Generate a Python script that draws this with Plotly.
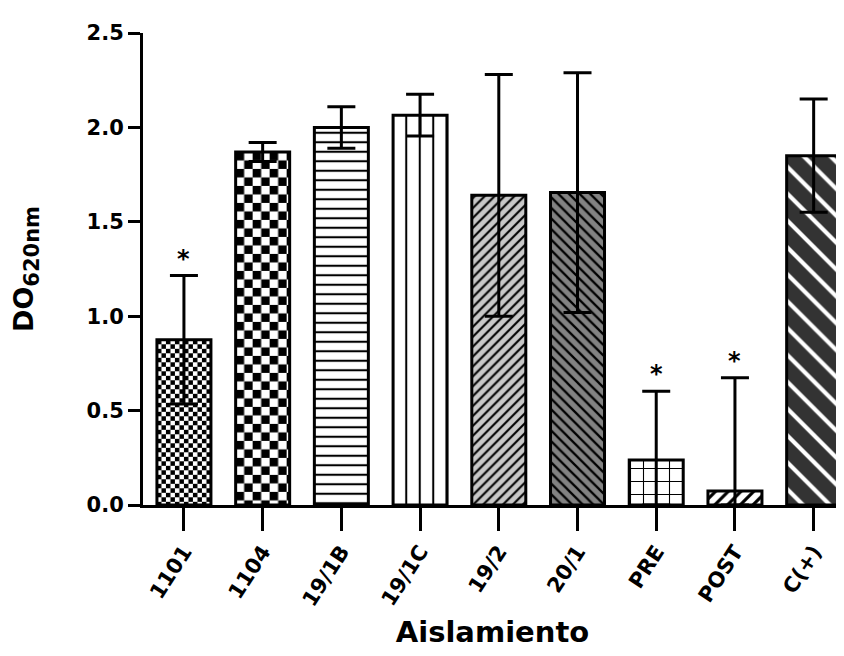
import base64
import plotly.graph_objects as go

# ---- data ----
categories = ["1101", "1104", "19/1B", "19/1C", "19/2", "20/1", "PRE", "POST", "C(+)"]
means = [0.875, 1.87, 2.0, 2.065, 1.64, 1.655, 0.238, 0.074, 1.85]
sds = [0.34, 0.05, 0.11, 0.11, 0.64, 0.635, 0.365, 0.60, 0.30]
stars = ["*", "", "", "", "", "", "*", "*", ""]
y_ticks = [0.0, 0.5, 1.0, 1.5, 2.0, 2.5]

# ---- styling ----
FONT = "DejaVu Sans, Liberation Sans, Arial, sans-serif"
shapes = ["", "", "-", "|", "/", "\\", "+", "/", "\\"]
bgcols = ["rgba(0,0,0,0)", "rgba(0,0,0,0)", "white", "white", "#c8c8c8", "#828282", "white", "white", "#333333"]
fgcols = ["black", "black", "black", "black", "black", "black", "black", "black", "white"]
psize = [8, 8, 9.5, 13.5, 7, 7.5, 13, 9, 19]
psolid = [0.3, 0.3, 0.22, 0.15, 0.3, 0.3, 0.16, 0.35, 0.22]
checker_cell = {0: 4.5, 1: 8.5}  # checkerboard fills for 1101 and 1104

X_RANGE = [-0.52, 8.36]
Y_RANGE = [0, 2.5]
# page has an 8px body margin, so the figure is sized/offset to compensate
M_L, M_R, M_T, M_B = 135, 2, 25, 151
W, H = 836, 648
BAR_W = 0.686

plot_w = W - M_L - M_R
plot_h = H - M_T - M_B
px_x = plot_w / (X_RANGE[1] - X_RANGE[0])
px_y = plot_h / (Y_RANGE[1] - Y_RANGE[0])

x_idx = list(range(len(categories)))

fig = go.Figure()
for i in x_idx:
    pat = dict(shape=shapes[i], fillmode="replace")
    if shapes[i]:
        pat.update(bgcolor=bgcols[i], fgcolor=fgcols[i], size=psize[i],
                   solidity=psolid[i], fgopacity=1)
    fig.add_trace(go.Bar(
        x=[x_idx[i]], y=[means[i]], width=BAR_W,
        marker=dict(color=bgcols[i], line=dict(color="black", width=3), pattern=pat),
        error_y=dict(type="data", array=[sds[i]], arrayminus=[min(sds[i], means[i])],
                     symmetric=False, color="black", thickness=3, width=14),
        showlegend=False, name=categories[i],
    ))


def checker_svg(w, h, cell):
    svg = (
        f'<svg xmlns="http://www.w3.org/2000/svg" width="{w:.1f}" height="{h:.1f}" '
        f'viewBox="0 0 {w:.1f} {h:.1f}" preserveAspectRatio="none">'
        f'<defs><pattern id="p" x="0" y="0" width="{2*cell}" height="{2*cell}" patternUnits="userSpaceOnUse">'
        f'<rect width="{2*cell}" height="{2*cell}" fill="white"/>'
        f'<rect x="0" y="0" width="{cell}" height="{cell}" fill="black"/>'
        f'<rect x="{cell}" y="{cell}" width="{cell}" height="{cell}" fill="black"/>'
        f'</pattern></defs><rect width="100%" height="100%" fill="url(#p)"/></svg>'
    )
    return "data:image/svg+xml;base64," + base64.b64encode(svg.encode()).decode()


images = []
for i, cell in checker_cell.items():
    wpx = BAR_W * px_x
    hpx = means[i] * px_y
    images.append(dict(
        source=checker_svg(wpx, hpx, cell), xref="x", yref="y",
        x=i - BAR_W / 2, y=means[i], sizex=BAR_W, sizey=means[i],
        xanchor="left", yanchor="top", sizing="stretch", layer="below",
    ))

annotations = []
for i, s in enumerate(stars):
    if s:
        annotations.append(dict(
            x=i, y=means[i] + sds[i], xref="x", yref="y", text=s, showarrow=False,
            yanchor="bottom", yshift=1,
            font=dict(family=FONT, size=24, color="black", weight="bold"),
        ))

fig.update_layout(
    width=W, height=H,
    margin=dict(l=M_L, r=M_R, t=M_T, b=M_B, autoexpand=False),
    paper_bgcolor="white", plot_bgcolor="white",
    images=images, annotations=annotations,
    barmode="overlay",
)
fig.update_xaxes(
    range=X_RANGE, tickmode="array", tickvals=x_idx, ticktext=categories,
    tickangle=-57, ticks="outside", ticklen=23, tickwidth=3, tickcolor="black",
    showline=True, linecolor="black", linewidth=3, showgrid=False, zeroline=False,
    tickfont=dict(family=FONT, size=21, color="black", weight="bold"),
    title=dict(text="Aislamiento", standoff=12,
               font=dict(family=FONT, size=29, color="black", weight="bold")),
)
fig.update_yaxes(
    range=Y_RANGE, tickmode="array", tickvals=y_ticks,
    ticktext=[f"{v:.1f}" for v in y_ticks],
    ticks="outside", ticklen=12, tickwidth=3, tickcolor="black",
    showline=True, linecolor="black", linewidth=3, showgrid=False, zeroline=False,
    tickfont=dict(family=FONT, size=21, color="black", weight="bold"),
    title=dict(text="DO<sub><span style='font-size:21px'>620nm</span></sub>", standoff=48,
               font=dict(family=FONT, size=27, color="black", weight="bold")),
)

fig.write_html("out.html")
